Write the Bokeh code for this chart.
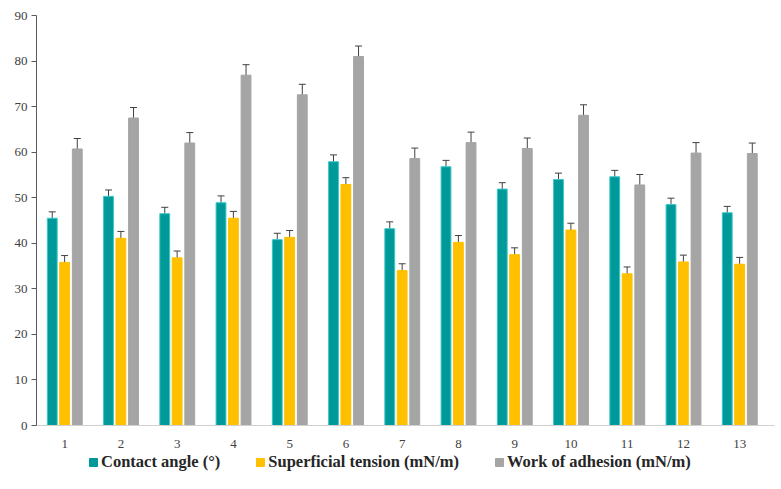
from bokeh.plotting import figure
from bokeh.layouts import column
from bokeh.models import ColumnDataSource, Whisker, Legend, LegendItem, FixedTicker, Range1d
from bokeh.embed import file_html
from bokeh.resources import INLINE

samples = [1, 2, 3, 4, 5, 6, 7, 8, 9, 10, 11, 12, 13]
contact_angle = [45.5, 50.3, 46.5, 48.9, 40.8, 57.9, 43.2, 56.8, 51.9, 54.0, 54.6, 48.5, 46.7]
contact_err = [1.4, 1.4, 1.4, 1.5, 1.4, 1.5, 1.5, 1.4, 1.4, 1.4, 1.4, 1.4, 1.4]
superficial_tension = [35.8, 41.1, 36.8, 45.5, 41.3, 52.9, 34.0, 40.2, 37.5, 42.9, 33.3, 35.9, 35.4]
tension_err = [1.5, 1.5, 1.5, 1.5, 1.5, 1.5, 1.5, 1.5, 1.5, 1.5, 1.5, 1.5, 1.5]
work_adhesion = [60.7, 67.5, 62.0, 76.9, 72.6, 81.0, 58.6, 62.1, 60.8, 68.1, 52.8, 59.8, 59.7]
work_err = [2.3, 2.3, 2.3, 2.3, 2.3, 2.3, 2.3, 2.3, 2.3, 2.3, 2.3, 2.3, 2.3]
series_names = ["Contact angle (°)", "Superficial tension (mN/m)", "Work of adhesion (mN/m)"]
colors = ["#009999", "#FFC000", "#A5A5A5"]
edge_colors = ["#3CC8C8", "#FFC000", "#A5A5A5"]

FONT = "Liberation Serif"

p = figure(frame_width=738, frame_height=410, output_backend="svg", toolbar_location=None,
           x_range=Range1d(0.5, 13.62), y_range=Range1d(0, 90),
           min_border_left=36, min_border_right=2, min_border_top=15, min_border_bottom=0)
p.outline_line_color = None
p.grid.visible = False

offsets = [-0.22, 0.0, 0.225]
series = [(contact_angle, contact_err), (superficial_tension, tension_err), (work_adhesion, work_err)]
for (vals, errs), off, col, ec in zip(series, offsets, colors, edge_colors):
    xs = [s + off for s in samples]
    src = ColumnDataSource(dict(x=xs, top=vals,
                                upper=[v + e for v, e in zip(vals, errs)],
                                lower=[v - e for v, e in zip(vals, errs)]))
    p.vbar(x="x", top="top", width=0.175, source=src, fill_color=col,
           line_color=ec, line_width=1)
    w = Whisker(base="x", upper="upper", lower="lower", source=src,
                line_color="#404040", line_width=1)
    w.upper_head.size = 7
    w.lower_head.size = 7
    w.upper_head.line_color = "#404040"
    w.lower_head.line_color = "#404040"
    p.add_layout(w)

p.xaxis.ticker = FixedTicker(ticks=samples)
p.xaxis.major_tick_line_color = None
p.xaxis.minor_tick_line_color = None
p.xaxis.axis_line_color = "#D0D0D0"
p.xaxis.major_label_standoff = 8
p.xaxis.major_label_text_font = FONT
p.xaxis.major_label_text_font_size = "13px"
p.xaxis.major_label_text_color = "#404040"

p.yaxis.ticker = FixedTicker(ticks=list(range(0, 91, 10)))
p.yaxis.axis_line_color = "#595959"
p.yaxis.major_tick_line_color = "#595959"
p.yaxis.major_tick_out = 5
p.yaxis.major_tick_in = 0
p.yaxis.minor_tick_line_color = None
p.yaxis.major_label_standoff = 4
p.yaxis.major_label_text_font = FONT
p.yaxis.major_label_text_font_size = "13px"
p.yaxis.major_label_text_color = "#404040"

# legend strip below the chart
lf = figure(width=776, height=28, output_backend="svg", toolbar_location=None,
            x_range=Range1d(0, 1), y_range=Range1d(0, 1),
            x_axis_type=None, y_axis_type=None, min_border=0)
lf.outline_line_color = None
lf.grid.visible = False
items = []
for name, col in zip(series_names, colors):
    # one off-screen swatch per series so the legend has a glyph to draw
    r = lf.vbar(x=[5], top=[0], width=0.1, fill_color=col, line_color=col)
    items.append(LegendItem(label=name, renderers=[r]))
legend = Legend(items=items, orientation="horizontal", location=(52, 6))
legend.label_text_font = FONT
legend.label_text_font_style = "bold"
legend.label_text_font_size = "16.5px"
legend.label_text_color = "#262626"
legend.glyph_width = 10
legend.glyph_height = 10
legend.spacing = 35
legend.label_standoff = 3
legend.border_line_color = None
legend.background_fill_alpha = 0
legend.padding = 0
legend.margin = 0
lf.add_layout(legend, "center")

layout = column(p, lf, spacing=0)
open("out.html", "w").write(file_html(layout, INLINE))
